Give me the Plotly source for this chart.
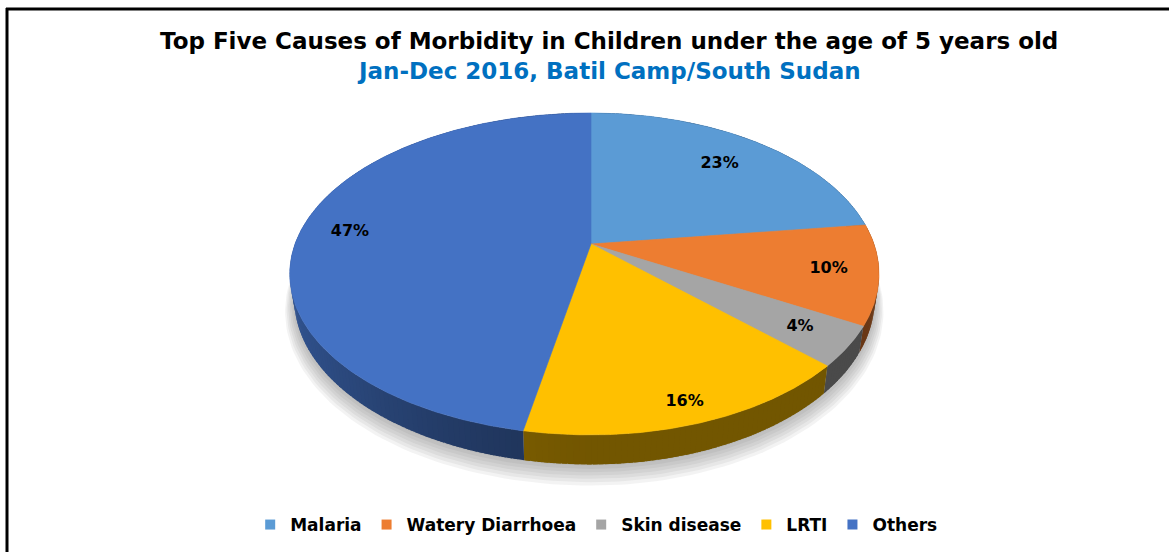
import numpy as np
import plotly.graph_objects as go

# Morbidity causes, children under 5, Batil Camp 2016 (percent of cases)
labels = ["Malaria", "Watery Diarrhoea", "Skin disease", "LRTI", "Others"]
values = [23, 10, 4, 16, 47]
colors = ["#5B9BD5", "#ED7D31", "#A5A5A5", "#FFC000", "#4472C4"]

title_text = "Top Five Causes of Morbidity in Children under the age of 5 years old"
subtitle_text = "Jan-Dec 2016, Batil Camp/South Sudan"

W, H = 1169, 552
FONT = "DejaVu Sans"

# 3-D pie projection parameters (pixel space)
CX, CY = 591, 244          # apex of the pie on screen
A_LEFT, A_RIGHT = 296, 283 # horizontal radii of the top face (left / right half)
K = 155.4                  # vertical radius of the top face
P = 0.186                  # perspective strength
DEPTH = 24                 # thickness of the pie body
RIM_SHRINK = 0.015         # lower rim is drawn slightly narrower (perspective)
LABEL_R = [0.76, 0.83, 0.83, 0.9, 0.83]


def project(phi_deg, r=1.0, drop=0.0):
    phi = np.radians(phi_deg)
    u = r * np.sin(phi)
    v = -r * np.cos(phi)
    s = 1.0 / (1.0 - P * v)
    a = np.where(u < 0, A_LEFT, A_RIGHT)
    k = 1.0 - RIM_SHRINK * drop / DEPTH
    return CX + a * u * s * k, CY + K * v * s + drop * s


def hex_rgb(h):
    h = h.lstrip("#")
    return tuple(int(h[i:i + 2], 16) for i in (0, 2, 4))


def shade(hexcol, f):
    r, g, b = hex_rgb(hexcol)
    return f"rgb({int(r * f)},{int(g * f)},{int(b * f)})"


fig = go.Figure()

# soft shadow beneath the body
for i in range(7):
    t = np.linspace(0, 360, 241)
    sx, sy = project(t, 1.0 + 0.006 * i, DEPTH + 1 + 1.5 * i)
    fig.add_trace(go.Scatter(x=sx, y=sy, mode="lines", fill="toself",
                             fillcolor="rgba(80,80,80,0.07)", line=dict(width=0),
                             hoverinfo="skip", showlegend=False))

total = float(sum(values))
bounds = np.concatenate([[0.0], np.cumsum(values) / total * 360.0])

# side walls, drawn as thin overlapping strips so the shading varies along the rim
STEP = 1.0
for i, col in enumerate(colors):
    a0, a1 = bounds[i], bounds[i + 1]
    n = max(1, int(np.ceil((a1 - a0) / STEP)))
    edges = np.linspace(a0, a1, n + 1)
    for j in range(n):
        e1 = min(edges[j + 1] + 0.8, a1)
        t = np.linspace(edges[j], e1, 4)
        mid = np.radians((edges[j] + edges[j + 1]) / 2)
        f = 0.45 + 0.3 * max(0.0, -np.sin(mid)) ** 1.5
        tx, ty = project(t)
        bx, by = project(t[::-1], 1.0, DEPTH)
        fig.add_trace(go.Scatter(x=np.concatenate([tx, bx]), y=np.concatenate([ty, by]),
                                 mode="lines", fill="toself", fillcolor=shade(col, f),
                                 line=dict(width=0),
                                 hoverinfo="skip", showlegend=False))

# top faces of the slices
for i, (lab, col) in enumerate(zip(labels, colors)):
    a0, a1 = bounds[i], bounds[i + 1]
    t = np.linspace(a0, a1, max(8, int((a1 - a0) * 2)))
    ax, ay = project(t)
    xs = np.concatenate([[CX], ax, [CX]])
    ys = np.concatenate([[CY], ay, [CY]])
    fig.add_trace(go.Scatter(x=xs, y=ys, mode="lines", fill="toself", fillcolor=col,
                             line=dict(width=0.6, color=col), name=lab,
                             hoverinfo="skip", showlegend=False))

# percentage labels
lx, ly, lt = [], [], []
for i, v in enumerate(values):
    mid = (bounds[i] + bounds[i + 1]) / 2
    x, y = project(mid, LABEL_R[i])
    lx.append(x)
    ly.append(y)
    lt.append(f"<b>{v}%</b>")
fig.add_trace(go.Scatter(x=lx, y=ly, mode="text", text=lt,
                         textfont=dict(family=FONT, size=16, color="#000000"),
                         hoverinfo="skip", showlegend=False))

# legend entries
for lab, col in zip(labels, colors):
    fig.add_trace(go.Scatter(x=[None], y=[None], mode="markers", name=lab,
                             marker=dict(symbol="square", size=10, color=col)))

fig.update_layout(
    width=W, height=H, autosize=False,
    margin=dict(l=0, r=0, t=0, b=0),
    paper_bgcolor="white", plot_bgcolor="white",
    xaxis=dict(range=[0, W], visible=False, fixedrange=True),
    yaxis=dict(range=[H, 0], visible=False, fixedrange=True),
    showlegend=True,
    legend=dict(orientation="h", x=0.51, xanchor="center", y=1 - 525 / H, yanchor="middle",
                font=dict(family=FONT, size=17, color="#000000", weight="bold"),
                itemwidth=30, tracegroupgap=0, bgcolor="rgba(0,0,0,0)"),
    annotations=[
        dict(x=609, y=41, xref="x", yref="y", text=f"<b>{title_text}</b>", showarrow=False,
             font=dict(family=FONT, size=23, color="#000000"), xanchor="center", yanchor="middle"),
        dict(x=609, y=71, xref="x", yref="y", text=f"<b>{subtitle_text}</b>", showarrow=False,
             font=dict(family=FONT, size=23, color="#0070C0"), xanchor="center", yanchor="middle"),
    ],
    shapes=[
        dict(type="line", xref="x", yref="y", x0=7, x1=7, y0=8, y1=H, line=dict(color="black", width=3)),
        dict(type="line", xref="x", yref="y", x0=6, x1=W, y0=9, y1=9, line=dict(color="black", width=3)),
    ],
)

fig.write_html("out.html")
